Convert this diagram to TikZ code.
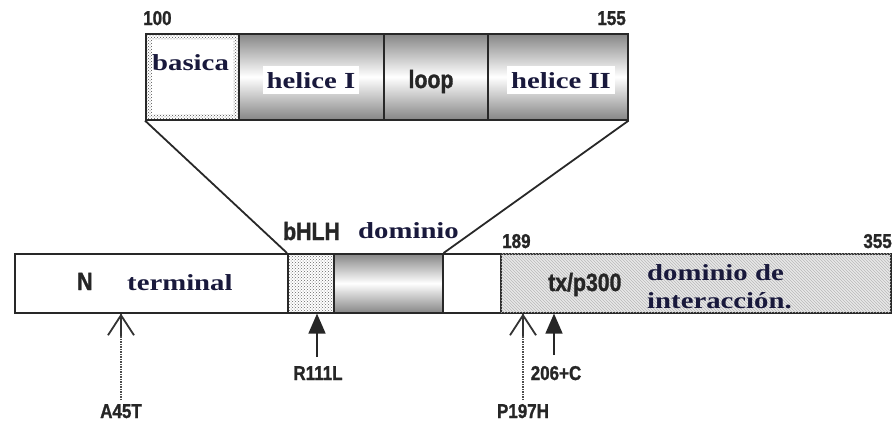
\documentclass[tikz,border=0pt]{standalone}
\usepackage{fontspec}
\usetikzlibrary{patterns,arrows.meta}
\newfontfamily\serifb[FakeStretch=1.25]{Liberation Serif Bold}
\newfontfamily\sansb[FakeStretch=0.85,FakeBold=1.2]{Liberation Sans Bold}
\definecolor{navy}{RGB}{25,25,60}
\definecolor{edge}{RGB}{40,40,40}
\tikzset{
  ser/.style={font=\serifb\fontsize{23}{28}\selectfont, text=navy, inner sep=0pt},
  san/.style={font=\sansb\fontsize{25}{30}\selectfont, text=black!85, inner sep=0pt},
  num/.style={font=\sansb\fontsize{20}{24}\selectfont, text=black!85, inner sep=0pt},
  cell/.style={draw=edge, line width=1.6pt, anchor=north west, inner sep=0pt},
  cyl/.style={top color=gray!95, bottom color=gray!95, middle color=white},
  zoomline/.style={line width=1.8pt, draw=edge},
  solidarrow/.style={-{Triangle[width=17pt,length=20pt]}, line width=1.6pt, draw=black!85},
  dotshaft/.style={line width=1.4pt, draw=black!70, dash pattern=on 1.5pt off 1pt},
  openhead/.style={-{Straight Barb[width=26pt,length=20pt,line width=1.8pt]}, line width=1.6pt, draw=black!80},
  whitelabel/.style={fill=white, inner xsep=4pt, inner ysep=6pt}
}
\begin{document}
\begin{tikzpicture}[x=1pt,y=-1pt]
\useasboundingbox (0,0) rectangle (893,423);
% ---------- top zoomed box ----------
\node[cell, minimum width=93pt, minimum height=86pt, pattern=crosshatch dots, pattern color=black!70] (bas) at (145,33) {};
\fill[white] ([shift={(7pt,-7pt)}]bas.north west) rectangle ([shift={(-7pt,7pt)}]bas.south east);
\node[cell, minimum width=93pt, minimum height=86pt] at (145,33) {};
\node[cell, cyl, minimum width=145pt, minimum height=86pt] (h1) at (238,33) {};
\node[cell, cyl, minimum width=104pt, minimum height=86pt] (lp) at (383,33) {};
\node[cell, cyl, minimum width=140pt, minimum height=86pt] (h2) at (487,33) {};
\node[ser, anchor=base west] (tbas) at (152,70) {basica};
\node[ser, whitelabel, anchor=base] (th1) at (311,88) {helice I};
\node[san, anchor=base] (tlp) at (431,88) {loop};
\node[ser, whitelabel, anchor=base] (th2) at (561,88) {helice II};
\node[num, anchor=base west] (n100) at (143,25) {100};
\node[num, anchor=base east] (n155) at (626,25) {155};
% ---------- main bar ----------
\node[cell, minimum width=273pt, minimum height=59pt, fill=white] (nt) at (14,253) {};
\node[cell, minimum width=46pt, minimum height=59pt, pattern=crosshatch dots, pattern color=black!60] (bh) at (287,253) {};
\node[cell, cyl, minimum width=109pt, minimum height=59pt] (gr) at (333,253) {};
\node[cell, minimum width=58pt, minimum height=59pt, fill=white] (wh) at (442,253) {};
\node[cell, minimum width=390pt, minimum height=59pt, fill=gray!18, postaction={pattern=north west lines, pattern color=gray!55}] (tx) at (500,253) {};
\node[san, anchor=base west] (tN) at (77,290) {N};
\node[ser, anchor=base west] (tterm) at (127,290) {terminal};
\node[san, anchor=base west] (tbhlh) at (283,240) {bHLH};
\node[ser, anchor=base west] (tdom) at (358,238) {dominio};
\node[san, anchor=base west] (ttx) at (548,291) {tx/p300};
\node[ser, anchor=base west] (tdd) at (647,280) {dominio de};
\node[ser, anchor=base west] (tint) at (647,308) {interacción.};
\node[num, anchor=base west] (n189) at (502,248) {189};
\node[num, anchor=base east] (n355) at (892,248) {355};
% ---------- zoom connectors ----------
\draw[zoomline] (bas.south west) -- (bh.north west);
\draw[zoomline] (h2.south east) -- (gr.north east);
% ---------- mutations ----------
\coordinate (cA) at (121,400);
\coordinate (cR) at (317,357);
\coordinate (cP) at (523,400);
\coordinate (cC) at (554,355);
\coordinate (hA) at (121,336);
\coordinate (hP) at (523,336);
\draw[dotshaft] (cA) -- (cA |- nt.south);
\draw[openhead] (hA) -- (hA |- nt.south);
\draw[solidarrow] (cR) -- (cR |- bh.south);
\draw[dotshaft] (cP) -- (cP |- tx.south);
\draw[openhead] (hP) -- (hP |- tx.south);
\draw[solidarrow] (cC) -- (cC |- tx.south);
\node[num, anchor=base] (mA) at (121,418) {A45T};
\node[num, anchor=base] (mR) at (318,380) {R111L};
\node[num, anchor=base] (mP) at (523,418) {P197H};
\node[num, anchor=base] (mC) at (556,380) {206+C};
\end{tikzpicture}
\end{document}
